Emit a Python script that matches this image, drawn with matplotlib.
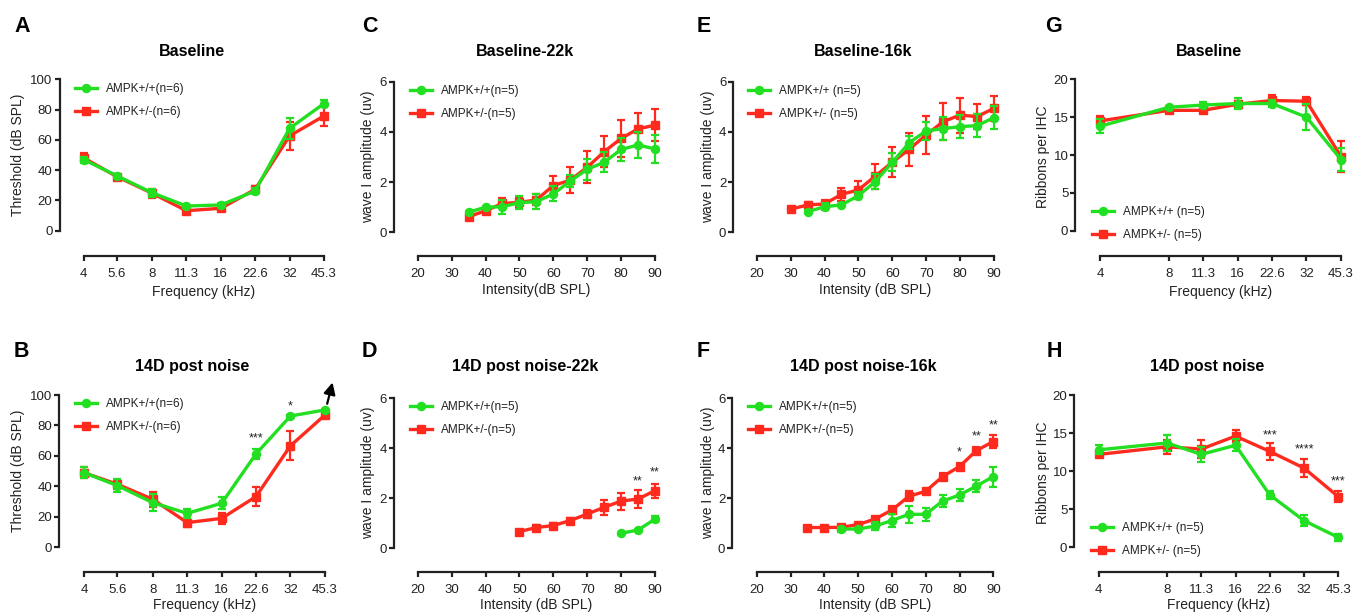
import numpy as np
import matplotlib
matplotlib.use("Agg")
import matplotlib.pyplot as plt
from matplotlib.ticker import FixedLocator, FixedFormatter, NullLocator

plt.rcParams['font.family'] = ['Liberation Sans', 'DejaVu Sans']

GREEN = '#22DF22'
RED = '#FF2A1E'
INK = '#222222'

# ---------------- data ----------------
freq8 = [4, 5.6, 8, 11.3, 16, 22.6, 32, 45.3]
freq8_labels = ['4', '5.6', '8', '11.3', '16', '22.6', '32', '45.3']
freq7 = [4, 8, 11.3, 16, 22.6, 32, 45.3]
freq7_labels = ['4', '8', '11.3', '16', '22.6', '32', '45.3']

# A: Baseline thresholds
A_wt = [47, 36.3, 25, 16.3, 17, 26.2, 67.6, 84]
A_wt_err = [2, 1.2, 2.5, 1.5, 1.2, 2, 7, 2.6]
A_het = [48.2, 35.7, 24.7, 13.2, 14.8, 27.3, 62.6, 75.8]
A_het_err = [3, 1.5, 3, 1.5, 1.5, 2.5, 9, 6.6]

# B: 14D post noise thresholds
B_wt = [49, 40.5, 29.3, 22.3, 28.9, 61.3, 86.2, 90.2]
B_wt_err = [3.5, 4.5, 5.5, 3, 4, 3, 0.5, 0.5]
B_het = [49, 41.4, 31.5, 16.2, 19, 33.3, 66.7, 86.9]
B_het_err = [3.5, 3, 5, 3, 3.5, 6, 9.5, 1]
B_stars = [(22.6, 71.5, '***'), (32, 92.5, '*')]

# C: Baseline-22k
C_int_wt = [35, 40, 45, 50, 55, 60, 65, 70, 75, 80, 85, 90]
C_wt = [0.80, 1.00, 1.02, 1.18, 1.22, 1.53, 2.04, 2.51, 2.79, 3.30, 3.48, 3.32]
C_wt_err = [0.05, 0.05, 0.28, 0.25, 0.3, 0.3, 0.25, 0.42, 0.4, 0.45, 0.5, 0.54]
C_int_het = [35, 40, 45, 50, 55, 60, 65, 70, 75, 80, 85, 90]
C_het = [0.62, 0.86, 1.15, 1.19, 1.29, 1.86, 2.08, 2.59, 3.21, 3.74, 4.12, 4.27]
C_het_err = [0.05, 0.08, 0.2, 0.2, 0.22, 0.38, 0.51, 0.63, 0.62, 0.75, 0.65, 0.65]

# D: 14D post noise-22k
D_int_wt = [80, 85, 90]
D_wt = [0.60, 0.73, 1.17]
D_wt_err = [0.03, 0.05, 0.12]
D_int_het = [50, 55, 60, 65, 70, 75, 80, 85, 90]
D_het = [0.67, 0.83, 0.91, 1.11, 1.37, 1.64, 1.89, 1.97, 2.31]
D_het_err = [0.05, 0.1, 0.1, 0.12, 0.17, 0.3, 0.34, 0.36, 0.28]
D_stars = [(85, 2.67, '**'), (90, 3.03, '**')]

# E: Baseline-16k
E_int_wt = [35, 40, 45, 50, 55, 60, 65, 70, 75, 80, 85, 90]
E_wt = [0.82, 1.02, 1.09, 1.46, 2.02, 2.79, 3.57, 4.04, 4.13, 4.21, 4.25, 4.57]
E_wt_err = [0.05, 0.15, 0.05, 0.15, 0.3, 0.35, 0.25, 0.35, 0.45, 0.45, 0.45, 0.45]
E_int_het = [30, 35, 40, 45, 50, 55, 60, 65, 70, 75, 80, 85, 90]
E_het = [0.92, 1.09, 1.13, 1.51, 1.69, 2.24, 2.79, 3.31, 3.88, 4.41, 4.67, 4.61, 4.94]
E_het_err = [0.05, 0.1, 0.15, 0.25, 0.35, 0.5, 0.6, 0.65, 0.75, 0.75, 0.7, 0.5, 0.5]

# F: 14D post noise-16k
F_int_wt = [45, 50, 55, 60, 65, 70, 75, 80, 85, 90]
F_wt = [0.77, 0.77, 0.89, 1.11, 1.36, 1.36, 1.89, 2.13, 2.49, 2.87]
F_wt_err = [0.1, 0.05, 0.15, 0.25, 0.35, 0.25, 0.25, 0.25, 0.25, 0.4]
F_int_het = [35, 40, 45, 50, 55, 60, 65, 70, 75, 80, 85, 90]
F_het = [0.83, 0.83, 0.84, 0.95, 1.17, 1.53, 2.08, 2.28, 2.87, 3.27, 3.91, 4.27]
F_het_err = [0.05, 0.05, 0.05, 0.05, 0.05, 0.15, 0.2, 0.1, 0.15, 0.15, 0.15, 0.25]
F_stars = [(80, 3.83, '*'), (85, 4.47, '**'), (90, 4.92, '**')]

# G: Baseline ribbons
G_wt = [13.8, 16.3, 16.6, 16.8, 16.8, 15.0, 9.4]
G_wt_err = [0.9, 0.2, 0.4, 0.7, 0.4, 1.7, 1.5]
G_het = [14.5, 15.9, 15.9, 16.7, 17.2, 17.1, 9.8]
G_het_err = [0.7, 0.2, 0.3, 0.4, 0.7, 0.5, 2.0]

# H: 14D post noise ribbons
H_wt = [12.8, 13.7, 12.2, 13.4, 6.9, 3.5, 1.3]
H_wt_err = [0.6, 1.1, 1.0, 0.8, 0.5, 0.7, 0.5]
H_het = [12.2, 13.2, 12.9, 14.6, 12.6, 10.4, 6.65]
H_het_err = [0.4, 0.9, 1.2, 0.8, 1.1, 1.2, 0.7]
H_stars = [(22.6, 14.7, '***'), (32, 12.8, '****'), (45.3, 8.6, '***')]

# ---------------- figure ----------------
W, H = 1356, 613
DPI = 100
fig = plt.figure(figsize=(W / DPI, H / DPI), dpi=DPI)
PX2PT = 72.0 / DPI


def make_axes(L, R, T, B):
    return fig.add_axes([L / W, 1 - B / H, (R - L) / W, (B - T) / H])


def draw_series(ax, x, y, err, color, marker, zorder):
    ax.errorbar(x, y, yerr=err, fmt='none', ecolor=color, elinewidth=1.6,
                capsize=3.2, capthick=1.6, clip_on=False, zorder=zorder)
    ln, = ax.plot(x, y, color=color, lw=2.4, marker=marker, ms=5.8,
                  mfc=color, mec=color, clip_on=False, zorder=zorder + 0.5)
    return ln


def panel(geom, kind, ymax, yticks, series, labels, ylabel, xlabel, title,
          letter, leg_px, ylabel_px, xlabel_py, title_px, letter_px, stars=()):
    L, p0, p1, T, B, xaxis = geom
    R = p1 + 6
    ax = make_axes(L, R, T, B)
    if kind == 'freq':
        ax.set_xscale('log', base=2)
        d0, d1 = np.log2(4), np.log2(45.3)
        k = (d1 - d0) / (p1 - p0)
        ax.set_xlim(2 ** (d0 - (p0 - L) * k), 2 ** (d1 + (R - p1) * k))
        ticks = freq8 if len(series[0][0]) == 8 else freq7
        tlabels = freq8_labels if len(series[0][0]) == 8 else freq7_labels
        ax.xaxis.set_major_locator(FixedLocator(ticks))
        ax.xaxis.set_major_formatter(FixedFormatter(tlabels))
        ax.xaxis.set_minor_locator(NullLocator())
        ax.spines['bottom'].set_bounds(4, 45.3)
    else:
        k = 70.0 / (p1 - p0)
        ax.set_xlim(20 - (p0 - L) * k, 90 + (R - p1) * k)
        ax.set_xticks([20, 30, 40, 50, 60, 70, 80, 90])
        ax.spines['bottom'].set_bounds(20, 90)
    ax.set_ylim(0, ymax)
    ax.set_yticks(yticks)
    ax.spines['left'].set_bounds(0, ymax)
    ax.spines['bottom'].set_position(('outward', (xaxis - B) * PX2PT))
    for s in ['top', 'right']:
        ax.spines[s].set_visible(False)
    for s in ['left', 'bottom']:
        ax.spines[s].set_linewidth(1.6)
        ax.spines[s].set_color(INK)
    ax.tick_params(axis='both', direction='out', length=3.8, width=1.6,
                   color=INK, labelsize=9.5, labelcolor=INK)
    ax.tick_params(axis='y', pad=1.2)
    ax.tick_params(axis='x', pad=5.0)
    ax.patch.set_alpha(0)

    (xg, yg, eg), (xr, yr, er) = series
    lr = draw_series(ax, xr, yr, er, RED, 's', 3)
    lg = draw_series(ax, xg, yg, eg, GREEN, 'o', 4)

    leg = ax.legend([lg, lr], labels, loc='upper left',
                    bbox_to_anchor=((leg_px[0] - L) / (R - L), (B - leg_px[1]) / (B - T)),
                    frameon=False, borderpad=0, borderaxespad=0, handlelength=1.9,
                    handletextpad=0.75, labelspacing=0.95, fontsize=8.5)
    for t in leg.get_texts():
        t.set_color(INK)

    ax.set_ylabel(ylabel, fontsize=10, color=INK, va='center')
    ax.yaxis.set_label_coords((ylabel_px[0] - L) / (R - L), (B - ylabel_px[1]) / (B - T))
    ax.set_xlabel(xlabel, fontsize=10, color=INK, va='center')
    ax.xaxis.set_label_coords(((p0 + p1) / 2 - L) / (R - L), (B - xlabel_py) / (B - T))

    fig.text(title_px[0] / W, 1 - title_px[1] / H, title, fontsize=11.5,
             fontweight='bold', ha='center', va='center', color='black')
    fig.text(letter_px[0] / W, 1 - letter_px[1] / H, letter, fontsize=15.5,
             fontweight='bold', ha='left', va='center', color='black')
    for sx, sy, st in stars:
        ax.text(sx, sy, st, ha='center', va='center', fontsize=9, color=INK,
                clip_on=False)
    return ax


labs6 = ['AMPK+/+(n=6)', 'AMPK+/-(n=6)']
labs5 = ['AMPK+/+(n=5)', 'AMPK+/-(n=5)']
labs5s = ['AMPK+/+ (n=5)', 'AMPK+/- (n=5)']

axA = panel((59.5, 83.5, 324, 79.3, 230.7, 256), 'freq', 100, [0, 20, 40, 60, 80, 100],
            [(freq8, A_wt, A_wt_err), (freq8, A_het, A_het_err)], labs6,
            'Threshold (dB SPL)', 'Frequency (kHz)', 'Baseline', 'A',
            (75, 83), (18, 155), 292, (192, 52), (14, 27))

axB = panel((59, 84, 325, 395, 547.3, 571.7), 'freq', 100, [0, 20, 40, 60, 80, 100],
            [(freq8, B_wt, B_wt_err), (freq8, B_het, B_het_err)], labs6,
            'Threshold (dB SPL)', 'Frequency (kHz)', '14D post noise', 'B',
            (75, 398), (18, 471), 605, (192, 367), (14, 352), B_stars)
axB.annotate('', xy=(49.2, 110), xytext=(46.0, 92.5), xycoords='data',
             textcoords='data', annotation_clip=False,
             arrowprops=dict(arrowstyle='-|>,head_length=0.7,head_width=0.35',
                             color='black', lw=1.6))

axC = panel((394, 417.7, 655, 81.7, 232.3, 256), 'int', 6, [0, 2, 4, 6],
            [(C_int_wt, C_wt, C_wt_err), (C_int_het, C_het, C_het_err)], labs5,
            'wave I amplitude (uv)', 'Intensity(dB SPL)', 'Baseline-22k', 'C',
            (410, 85), (368, 157), 290, (525, 52), (362, 26))

axD = panel((394, 417.7, 655, 398.3, 548.3, 571.7), 'int', 6, [0, 2, 4, 6],
            [(D_int_wt, D_wt, D_wt_err), (D_int_het, D_het, D_het_err)], labs5,
            'wave I amplitude (uv)', 'Intensity (dB SPL)', '14D post noise-22k', 'D',
            (410, 401), (368, 473), 605, (525, 367), (362, 352), D_stars)

axE = panel((733.3, 756.7, 994, 81.7, 232.3, 256), 'int', 6, [0, 2, 4, 6],
            [(E_int_wt, E_wt, E_wt_err), (E_int_het, E_het, E_het_err)], labs5s,
            'wave I amplitude (uv)', 'Intensity (dB SPL)', 'Baseline-16k', 'E',
            (748, 85), (708, 157), 290, (863, 52), (697, 26))

axF = panel((732.3, 756.7, 993.3, 398.3, 548.3, 571.7), 'int', 6, [0, 2, 4, 6],
            [(F_int_wt, F_wt, F_wt_err), (F_int_het, F_het, F_het_err)], labs5,
            'wave I amplitude (uv)', 'Intensity (dB SPL)', '14D post noise-16k', 'F',
            (748, 401), (708, 473), 605, (863, 367), (697, 352), F_stars)

axG = panel((1075.3, 1100, 1341, 79.3, 230.7, 256), 'freq', 20, [0, 5, 10, 15, 20],
            [(freq7, G_wt, G_wt_err), (freq7, G_het, G_het_err)], labs5s,
            'Ribbons per IHC', 'Frequency (kHz)', 'Baseline', 'G',
            (1092, 206), (1043, 157), 292, (1209, 52), (1045, 27))

axH = panel((1074.3, 1098.7, 1338.3, 395, 547.3, 571.7), 'freq', 20, [0, 5, 10, 15, 20],
            [(freq7, H_wt, H_wt_err), (freq7, H_het, H_het_err)], labs5s,
            'Ribbons per IHC', 'Frequency (kHz)', '14D post noise', 'H',
            (1091, 522), (1043, 473), 605, (1207, 367), (1047, 352), H_stars)

fig.savefig('out.png', dpi=DPI, facecolor='white')
